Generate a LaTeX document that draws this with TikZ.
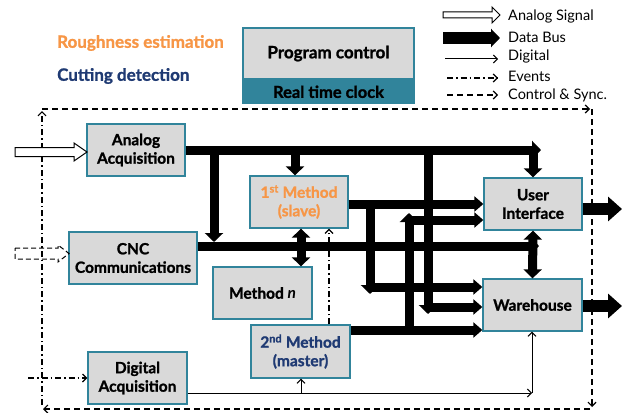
\documentclass[tikz,border=0pt]{standalone}
\usepackage{fontspec}
\setmainfont{Lato}[BoldFeatures={FakeBold=1.2}]
\usetikzlibrary{arrows.meta}
\definecolor{boxfill}{HTML}{D9D9D9}
\definecolor{boxline}{HTML}{31849B}
\definecolor{orng}{HTML}{F79646}
\definecolor{dblue}{HTML}{1F3A73}
\begin{document}
\begin{tikzpicture}[x=1pt,y=-1pt,
  blk/.style={draw=boxline, fill=boxfill, line width=1.3pt, font=\fontsize{15.5}{18.5}\selectfont\bfseries, align=center, inner sep=0pt, minimum width=98pt, minimum height=52pt},
  bus/.style={line width=9pt, line join=miter},
  bt/.style={-{Triangle[width=18pt,length=9pt]}},
  bts/.style={-{Triangle[width=15pt,length=9pt]}},
  btb/.style={{Triangle[width=18pt,length=9pt]}-{Triangle[width=18pt,length=9pt]}},
  outarr/.style={line width=12pt, -{Triangle[width=24pt,length=14pt]}},
  dig/.style={line width=1pt, -{Straight Barb[length=4pt,width=8pt]}},
  evt/.style={line width=1.2pt, dash pattern=on 6pt off 3pt on 1.5pt off 3pt, -{Straight Barb[length=4pt,width=8pt]}},
  ctl/.style={line width=1.2pt, dash pattern=on 6pt off 4pt, -{Straight Barb[length=4pt,width=8pt]}},
  lgtext/.style={anchor=west, font=\fontsize{14.5}{16}\selectfont, inner sep=0pt},
  title/.style={anchor=west, font=\fontsize{17}{20}\selectfont\bfseries, inner sep=0pt},
]
\useasboundingbox[fill=white] (0,0) rectangle (626,412);

% titles
\node[title, text=orng] (rough) at (57,43) {Roughness estimation};
\node[title, text=dblue] (cut) at (57,76) {Cutting detection};

% program control
\node[blk, font=\fontsize{17}{20}\selectfont\bfseries, minimum width=171pt, minimum height=51pt] (pc) at (328.5,53.5) {Program control};
\node[blk, font=\fontsize{16.5}{20}\selectfont\bfseries, fill=boxline, minimum width=171pt, minimum height=23pt, anchor=north] (rtc) at (pc.south) {Real time clock};

% legend
\node[lgtext] (lg1) at (508,16) {Analog Signal};
\node[lgtext] (lg2) at (508,37) {Data Bus};
\node[lgtext] (lg3) at (508,56) {Digital};
\node[lgtext] (lg4) at (508,76) {Events};
\node[lgtext] (lg5) at (508,95) {Control \& Sync.};
\draw[line width=1pt, fill=white] (443,12) -- (492,12) -- (492,7) -- (500,15) -- (492,23) -- (492,18) -- (443,18) -- cycle;
\draw[line width=12pt, -{Triangle[width=18pt,length=9pt]}] ([xshift=-65pt,yshift=-1pt]lg2.west) -- ([xshift=-8pt,yshift=-1pt]lg2.west);
\draw[dig] ([xshift=-63pt,yshift=-3pt]lg3.west) -- ([xshift=-10pt,yshift=-3pt]lg3.west);
\draw[evt] ([xshift=-61pt,yshift=-2pt]lg4.west) -- ([xshift=-10pt,yshift=-2pt]lg4.west);
\draw[ctl] ([xshift=-61pt]lg5.west) -- ([xshift=-10pt]lg5.west);

% blocks
\node[blk] (aa) at (136,150) {Analog\\Acquisition};
\node[blk, minimum width=128pt] (cnc) at (133,258) {CNC\\Communications};
\node[blk, text=orng] (m1) at (299,202) {1\textsuperscript{st} Method\\(slave)};
\node[blk, minimum width=99pt] (mn) at (262.5,293) {Method \textit{n}};
\node[blk, minimum width=99pt, minimum height=53pt, text=dblue] (m2) at (300.5,351.5) {2\textsuperscript{nd} Method\\(master)};
\node[blk, minimum width=99pt] (da) at (137.5,378) {Digital\\Acquisition};
\node[blk] (ui) at (533,204) {User\\Interface};
\node[blk, minimum width=99pt] (wh) at (532.5,305) {Warehouse};

% outer control / events frame
\coordinate (fTL) at (42,109);
\coordinate (fTR) at (590,109);
\coordinate (fRT) at (592,109);
\coordinate (fRB) at (592,407);
\coordinate (fBR) at (590,409);
\coordinate (fBL) at (43,409);
\coordinate (fLB) at (42,405);
\coordinate (fLT) at (42,111);
\draw[ctl] (fTL) -- (fTR);
\draw[ctl] (fRT) -- (fRB);
\draw[ctl] (fBR) -- (fBL);
\draw[evt] (fLB) -- (fLT);
\coordinate (evIn) at (28,378);
\draw[evt] (evIn) -- (da.west);

% inputs
\draw[line width=1pt, fill=white] (15,147.5) -- (74,147.5) -- (74,143) -- (87,152) -- (74,161) -- (74,156.5) -- (15,156.5) -- cycle;
\draw[line width=1pt, dash pattern=on 5pt off 3pt] (15,248) -- (58,248) -- (58,245) -- (69,253.5) -- (58,262) -- (58,259) -- (15,259) -- cycle;

% top data bus
\coordinate (tbE) at (541,150);
\draw[bus,bt] (aa.east) -- (tbE);
\coordinate (tbU) at (533,150);
\draw[bus,bt] (tbU) -- (ui.north);
\coordinate (tbC) at (214,150);
\coordinate (cbC) at (214,242);
\draw[bus,bt] (tbC) -- (cbC);
\coordinate (tbM) at (295,150);
\draw[bus,bt] (tbM) -- (tbM |- m1.north);

% CNC bus
\coordinate (cbE) at (539,246);
\draw[bus,bt] (cnc.east |- cbE) -- (cbE);
\draw[bus,btb] (ui.south) -- (wh.north);
\coordinate (mx) at (301,246);
\draw[bus,btb] (m1.south -| mx) -- (mn.north -| mx);

% 1st method outputs
\coordinate (r1) at (348,204);
\draw[bus,bts] (m1.east |- r1) -- (ui.west |- r1);
\coordinate (b1) at (370,204);
\coordinate (b1d) at (370,294);
\draw[bus,bt] (b1) -- (b1d);
\coordinate (b1h) at (370,287);
\draw[bus,bts] (b1h) -- (wh.west |- b1h);

% branch from top bus to warehouse
\coordinate (b2) at (428,150);
\coordinate (b2d) at (428,314);
\draw[bus,bt] (b2) -- (b2d);
\coordinate (b2h) at (428,307);
\draw[bus,bts] (b2h) -- (wh.west |- b2h);

% 2nd method outputs
\coordinate (m2b) at (350,330);
\draw[bus,bts] (m2.east |- m2b) -- (wh.west |- m2b);
\coordinate (rs) at (409,330);
\coordinate (rsT) at (409,213);
\draw[bus,bt] (rs) -- (rsT);
\coordinate (rsH) at (409,220);
\draw[bus,bts] (rsH) -- (ui.west |- rsH);

% outputs
\coordinate (uiO) at (622,209);
\draw[outarr] (ui.east |- uiO) -- (uiO);
\coordinate (whO) at (622,306);
\draw[outarr] (wh.east |- whO) -- (whO);

% digital
\coordinate (dE) at (532,393);
\draw[dig] (da.east |- dE) -- (dE);
\draw[dig] (dE) -- (wh.south -| dE);
\coordinate (dM) at (301,393);
\draw[dig] (dM) -- (m2.south -| dM);

% events between methods
\coordinate (ev) at (329,300);
\draw[evt] (m2.north -| ev) -- (m1.south -| ev);
\end{tikzpicture}
\end{document}
